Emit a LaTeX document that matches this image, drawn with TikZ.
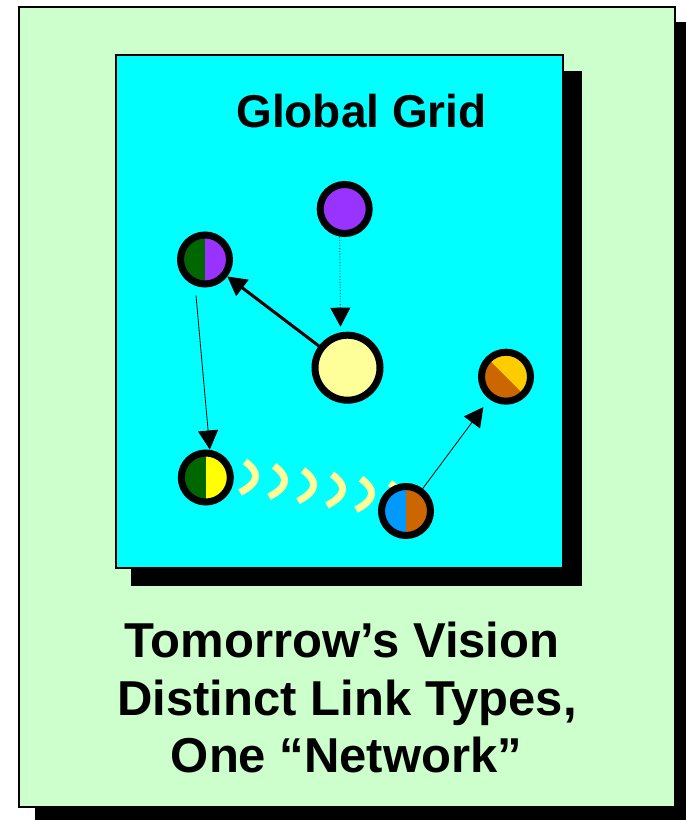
\documentclass[tikz,border=0pt]{standalone}
\usepackage{fontspec}
\setmainfont{Liberation Sans}
\usetikzlibrary{arrows.meta}
\definecolor{bggreen}{HTML}{CCFFCC}
\definecolor{gridcyan}{HTML}{00FFFF}
\definecolor{vpurple}{HTML}{9933FF}
\definecolor{dgreen}{HTML}{006600}
\definecolor{byellow}{HTML}{FFFF00}
\definecolor{lyellow}{HTML}{FFFF99}
\definecolor{sblue}{HTML}{0099FF}
\definecolor{rorange}{HTML}{CC6600}
\definecolor{gold}{HTML}{FFCC00}
\begin{document}
\begin{tikzpicture}[x=1pt,y=-1pt,
  dot/.style={circle, draw=black, line width=7pt, outer sep=3.5pt, minimum size=49pt, inner sep=0pt},
  bigdot/.style={dot, minimum size=65pt},
  lefthalf/.style={path picture={\fill[#1] (path picture bounding box.north west) rectangle (path picture bounding box.south);}},
  diaghalf/.style={path picture={\fill[#1] (path picture bounding box.north west) -- (path picture bounding box.north east) -- (path picture bounding box.south east) -- cycle;}},
  tip/.style={-{Triangle[width=20pt,length=19pt]}},
  link/.style={draw=lyellow, line width=7pt, line cap=butt},
  title/.style={font=\fontsize{46}{52}\selectfont\bfseries, anchor=base, inner sep=0pt},
  caption/.style={font=\fontsize{49}{56}\selectfont\bfseries, anchor=base, inner sep=0pt}
]
\useasboundingbox (0,0) rectangle (686,820);
% outer frame
\fill[black] (35,22) rectangle (686,820);
\draw[line width=2pt, fill=bggreen] (19,7) rectangle (675,807);
% grid panel
\fill[black] (131,71) rectangle (582,586);
\draw[line width=2pt, fill=gridcyan] (116,55) rectangle (563,568);
\node[title] (gtitle) at (361.5,127) {Global Grid};
% wireless-like links
\foreach \i in {0,...,5}{
  \begin{scope}[shift={(\i*29,\i*4.3)}]
    \draw[link] (245,461.5) .. controls (258,471) and (262,481) .. (240,492.5);
  \end{scope}
}
% nodes
\node[dot, fill=vpurple] (pu) at (344.7,209) {};
\node[dot, fill=vpurple, lefthalf=dgreen] (gp) at (205,259.5) {};
\node[bigdot, fill=lyellow] (yl) at (347.5,367.7) {};
\node[dot, fill=byellow, lefthalf=dgreen] (gy) at (205.8,477.5) {};
\node[dot, fill=rorange, lefthalf=sblue] (bo) at (406,511) {};
\node[dot, fill=rorange, diaghalf=gold] (og) at (506,376.7) {};
% connectors
\draw[dotted, line width=0.8pt, tip] ([xshift=-5pt]pu.south) -- ([xshift=-7pt,yshift=5pt]yl.north);
\draw[line width=3pt, tip] (yl) -- (gp);
\draw[line width=0.8pt, tip] ([xshift=-9pt,yshift=-8pt]gp.south) -- ([xshift=4pt]gy.north);
\draw[line width=0.8pt, tip, shorten >=10pt] (bo) -- (og);
% caption
\node[caption] (c1) at (342,657) {Tomorrow’s Vision};
\node[caption] (c2) at (347,715) {Distinct Link Types,};
\node[caption] (c3) at (346.5,772) {One “Network”};
\end{tikzpicture}
\end{document}
